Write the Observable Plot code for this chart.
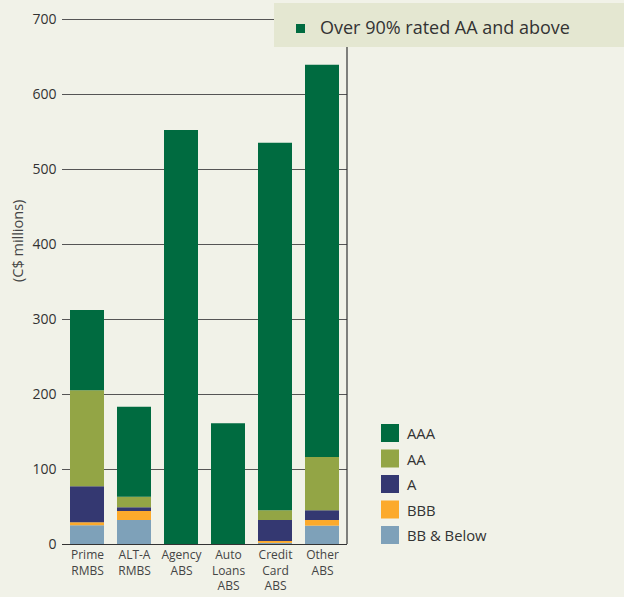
<!DOCTYPE html>
<html>
<head>
<meta charset="utf-8">
<script src="https://cdn.jsdelivr.net/npm/d3@7"></script>
<script src="https://cdn.jsdelivr.net/npm/@observablehq/plot@0.6"></script>
<style>
  html, body { margin: 0; padding: 0; background: #f1f2e8; }
  #chart { position: relative; width: 624px; height: 597px; }
  svg { font-family: "Open Sans", sans-serif; }
</style>
</head>
<body>
<div id="chart"></div>
<script>
const categories = ["Prime\nRMBS", "ALT-A\nRMBS", "Agency\nABS", "Auto\nLoans\nABS", "Credit\nCard\nABS", "Other\nABS"];
const ratings = ["BB & Below", "BBB", "A", "AA", "AAA"];
const bbBelow = [25, 32, 0, 0, 1.5, 24.5];
const bbb = [4, 12, 0, 0, 2.5, 7.5];
const aRated = [48, 5, 0, 0, 28, 13];
const aa = [128, 14, 0, 0, 13, 71];
const aaa = [107, 120, 552, 161, 490, 523];
const colors = ["#7ea1b9", "#fcaa2c", "#343871", "#93a545", "#006b40"];
const yTicks = [0, 100, 200, 300, 400, 500, 600, 700];
const yLabel = "(C$ millions)";
const noteText = "Over 90% rated AA and above";
const legendOrder = ["AAA", "AA", "A", "BBB", "BB & Below"];

const series = [bbBelow, bbb, aRated, aa, aaa];
const data = [];
categories.forEach((c, i) => {
  ratings.forEach((r, j) => data.push({category: c, rating: r, value: series[j][i]}));
});

const W = 624, H = 597;
const plot = Plot.plot({
  width: W,
  height: H,
  marginLeft: 62,
  marginRight: 277,
  marginTop: 19,
  marginBottom: 53,
  style: {background: "transparent", fontFamily: "Open Sans, sans-serif", color: "#333"},
  x: {domain: categories, paddingInner: 0.285, paddingOuter: 0.14, label: null},
  y: {domain: [0, 700], label: null},
  color: {domain: ratings, range: colors},
  marks: [
    Plot.ruleY(yTicks.slice(1), {stroke: "#555", strokeWidth: 1.2}),
    Plot.barY(data, {x: "category", y: "value", fill: "rating", order: ratings}),
    Plot.axisY({ticks: yTicks, tickSize: 0, tickPadding: 6, fontSize: 14, label: null, fill: "#333"}),
    Plot.axisX({tickSize: 0, tickPadding: 4, fontSize: 12, lineHeight: 1.28, label: null, fill: "#444"}),
    Plot.ruleX([0], {frameAnchor: "left", stroke: "#333", strokeWidth: 1.2}),
    Plot.ruleY([0], {stroke: "#333", strokeWidth: 1.2}),
    Plot.text([yLabel], {frameAnchor: "left", rotate: -90, dx: -44, fontSize: 14.5, fill: "#444"})
  ]
});
document.getElementById("chart").appendChild(plot);

const svg = d3.select(plot);
// right border line of the plot area
svg.append("line").attr("x1", 347).attr("x2", 347).attr("y1", 19).attr("y2", 544)
  .attr("stroke", "#333").attr("stroke-width", 1.2);

// note box
const note = svg.append("g").attr("text-anchor", "start");
note.append("rect").attr("x", 274).attr("y", 3).attr("width", 350).attr("height", 44).attr("fill", "#e4e7d1");
note.append("rect").attr("x", 296).attr("y", 24).attr("width", 9).attr("height", 9).attr("fill", colors[4]);
note.append("text").attr("x", 320).attr("y", 34).attr("font-size", 18).attr("fill", "#333").text(noteText);

// legend
const lg = svg.append("g").attr("text-anchor", "start");
legendOrder.forEach((r, i) => {
  const y = 424 + i * 25.5;
  lg.append("rect").attr("x", 381).attr("y", y).attr("width", 18).attr("height", 18)
    .attr("fill", colors[ratings.indexOf(r)]);
  lg.append("text").attr("x", 407).attr("y", y + 15).attr("font-size", 14.8).attr("fill", "#333").text(r);
});
</script>
</body>
</html>
